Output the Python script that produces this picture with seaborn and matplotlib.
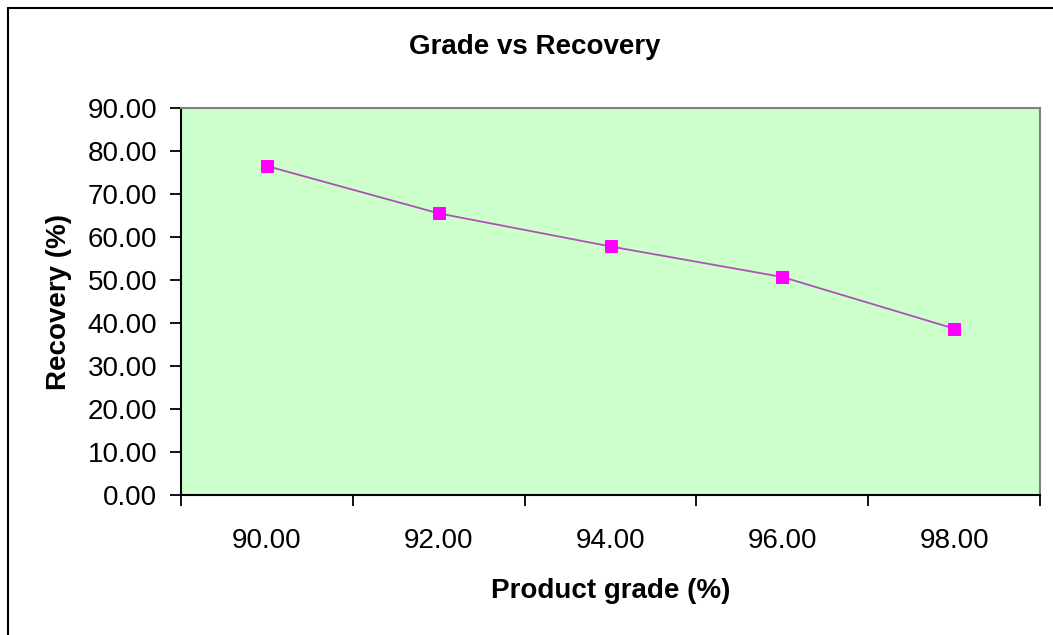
import matplotlib
matplotlib.use("Agg")
import matplotlib.pyplot as plt
from matplotlib.lines import Line2D
import seaborn as sns
import pandas as pd

grade = [90.0, 92.0, 94.0, 96.0, 98.0]
recovery = [76.5, 65.5, 57.8, 50.7, 38.7]

df = pd.DataFrame({"Product grade (%)": grade, "Recovery (%)": recovery})

sns.set_style("white")
plt.rcParams["font.family"] = ["Liberation Sans", "DejaVu Sans"]
plt.rcParams["text.color"] = "black"
plt.rcParams["axes.labelcolor"] = "black"
plt.rcParams["xtick.color"] = "black"
plt.rcParams["ytick.color"] = "black"

fig = plt.figure(figsize=(10.53, 6.35), dpi=100)
ax = fig.add_axes([181 / 1053, 1 - 495 / 635, (1040 - 181) / 1053, (495 - 108) / 635])
ax.set_facecolor("#CCFFCC")

sns.lineplot(data=df, x="Product grade (%)", y="Recovery (%)", ax=ax,
             color="#B050B8", linewidth=1.3, marker="s", markersize=9,
             markerfacecolor="#FF00FF", markeredgecolor="#FF00FF")

ax.set_xlim(89, 99)
ax.set_ylim(0, 90)
ax.set_xticks(grade)
ax.set_xticklabels([f"{g:.2f}" for g in grade])
ax.set_xticks([89, 91, 93, 95, 97, 99], minor=True)
ax.set_yticks(range(0, 91, 10))
ax.set_yticklabels([f"{v:.2f}" for v in range(0, 91, 10)])
ax.tick_params(axis="x", which="major", length=0, pad=24, labelsize=20)
ax.tick_params(axis="x", which="minor", length=8, width=1.3, direction="out", bottom=True)
ax.tick_params(axis="y", length=8, width=1.3, direction="out", left=True, labelsize=20, pad=9)
for s in ["left", "bottom"]:
    ax.spines[s].set_color("black")
    ax.spines[s].set_linewidth(1.5)
for s in ["top", "right"]:
    ax.spines[s].set_color("#808080")
    ax.spines[s].set_linewidth(1.5)

ax.set_xlabel("Product grade (%)", fontsize=20, fontweight="bold", labelpad=17)
ax.set_ylabel("Recovery (%)", fontsize=20, fontweight="bold", labelpad=11)
fig.text(535 / 1053, 1 - 47 / 635, "Grade vs Recovery", ha="center", va="center",
         fontsize=20, fontweight="bold")

# outer chart border (left and top visible)
fig.add_artist(Line2D([8 / 1053, 8 / 1053], [0, 1 - 8 / 635], color="black", lw=1.5))
fig.add_artist(Line2D([8 / 1053, 1], [1 - 8 / 635, 1 - 8 / 635], color="black", lw=1.5))

fig.savefig("out.png", dpi=100)
